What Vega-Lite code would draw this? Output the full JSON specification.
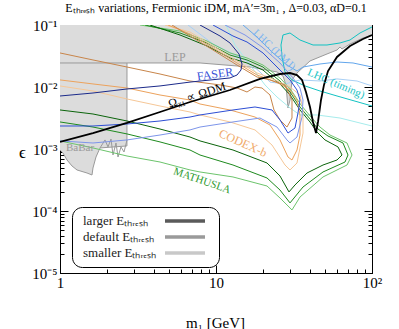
{
"$schema":"https://vega.github.io/schema/vega-lite/v6.json",
"width":312,"height":248,
"autosize":{"type":"none"},
"padding":{"left":60,"top":25,"right":27,"bottom":56},
"title":{"text":"Eₜₕᵣₑₛₕ variations, Fermionic iDM, mA′=3m₁ , Δ=0.03, αD=0.1","font":"Liberation Serif","fontSize":12,"fontWeight":"normal","color":"black","offset":3},
"config":{"view":{"stroke":"black"},"axis":{"grid":false,"domainColor":"black","tickColor":"black","labelColor":"black","titleColor":"black","labelFont":"Liberation Serif","titleFont":"Liberation Serif","titleFontWeight":"normal"}},
"datasets":{
"gray":[
{"m":1,"e":0.000963},{"m":1.045,"e":0.000862},{"m":1.109,"e":0.000665},{"m":1.194,"e":0.000532},{"m":1.285,"e":0.000459},{"m":1.49,"e":0.00041},{"m":1.604,"e":0.000381},{"m":1.627,"e":0.000494},{"m":1.701,"e":0.000743},{"m":1.805,"e":0.00104},{"m":2.686,"e":0.00112},{"m":2.688,"e":0.0244},{"m":7.897,"e":0.0244},{"m":16.52,"e":0.021},{"m":24.6,"e":0.0175},{"m":26.88,"e":0.015},{"m":28.1,"e":0.0108},{"m":28.94,"e":0.00459},{"m":29.81,"e":0.00617},{"m":30.7,"e":0.013},{"m":33.05,"e":0.0168},{"m":40.05,"e":0.0263},{"m":51.47,"e":0.0341},{"m":59.67,"e":0.0395},{"m":62.36,"e":0.0442},{"m":64.23,"e":0.041},{"m":72.27,"e":0.0494},{"m":87.57,"e":0.0617},{"m":100,"e":0.069}
],
"cv":[
{"s":"L","o":1,"m":1,"e":0.0244},{"s":"L","o":2,"m":2.688,"e":0.0244},
{"s":"W","o":1,"m":1.805,"e":0.00104},{"s":"W","o":2,"m":1.943,"e":0.0014},{"s":"W","o":3,"m":2.031,"e":0.00108},{"s":"W","o":4,"m":2.123,"e":0.00145},{"s":"W","o":5,"m":2.186,"e":0.0008},{"s":"W","o":6,"m":2.285,"e":0.00125},{"s":"W","o":7,"m":2.354,"e":0.000743},{"s":"W","o":8,"m":2.461,"e":0.00108},{"s":"W","o":9,"m":2.572,"e":0.000895},{"s":"W","o":10,"m":2.688,"e":0.0014},
{"s":"C3","o":1,"m":11.59,"e":0.1},{"s":"C3","o":2,"m":13.24,"e":0.0476},{"s":"C3","o":3,"m":16.52,"e":0.0226},{"s":"C3","o":4,"m":20.61,"e":0.0108},{"s":"C3","o":5,"m":24.6,"e":0.0069},{"s":"C3","o":6,"m":29.81,"e":0.00459},{"s":"C3","o":7,"m":34.55,"e":0.00354},{"s":"C3","o":8,"m":44.41,"e":0.00354},{"s":"C3","o":9,"m":62.36,"e":0.00316},{"s":"C3","o":10,"m":100,"e":0.00235},
{"s":"D2","o":1,"m":6.615,"e":0.1},{"s":"D2","o":2,"m":9.567,"e":0.0494},{"s":"D2","o":3,"m":15.8,"e":0.0263},{"s":"D2","o":4,"m":19.14,"e":0.0175},{"s":"D2","o":5,"m":22.19,"e":0.012},{"s":"D2","o":6,"m":27.69,"e":0.0112},{"s":"D2","o":7,"m":34.55,"e":0.013},{"s":"D2","o":8,"m":46.42,"e":0.0125},{"s":"D2","o":9,"m":59.67,"e":0.0135},{"s":"D2","o":10,"m":80.14,"e":0.0125},{"s":"D2","o":11,"m":100,"e":0.0104},
{"s":"D1","o":1,"m":14.9,"e":0.1},{"s":"D1","o":2,"m":18.32,"e":0.0641},{"s":"D1","o":3,"m":23.2,"e":0.0354},{"s":"D1","o":4,"m":28.51,"e":0.0226},{"s":"D1","o":5,"m":33.05,"e":0.0181},{"s":"D1","o":6,"m":36.12,"e":0.021},{"s":"D1","o":7,"m":46.42,"e":0.0235},{"s":"D1","o":8,"m":59.67,"e":0.0253},{"s":"D1","o":9,"m":75.55,"e":0.0244},{"s":"D1","o":10,"m":100,"e":0.021},
{"s":"C1","o":1,"m":100,"e":0.00494},{"s":"C1","o":2,"m":59.67,"e":0.00716},{"s":"C1","o":3,"m":46.42,"e":0.00862},{"s":"C1","o":4,"m":37.2,"e":0.0104},{"s":"C1","o":5,"m":30.7,"e":0.013},{"s":"C1","o":6,"m":27.69,"e":0.0175},{"s":"C1","o":7,"m":26.49,"e":0.0305},{"s":"C1","o":8,"m":26.1,"e":0.0476},{"s":"C1","o":9,"m":26.88,"e":0.069},{"s":"C1","o":10,"m":29.81,"e":0.0743},{"s":"C1","o":11,"m":34.55,"e":0.0573},{"s":"C1","o":12,"m":41.86,"e":0.0476},{"s":"C1","o":13,"m":51.47,"e":0.0476},{"s":"C1","o":14,"m":62.36,"e":0.0513},{"s":"C1","o":15,"m":72.27,"e":0.0573},{"s":"C1","o":16,"m":83.77,"e":0.0743},{"s":"C1","o":17,"m":100,"e":0.0929},
{"s":"G3","o":1,"m":1,"e":0.00135},{"s":"G3","o":2,"m":1.627,"e":0.00104},{"s":"G3","o":3,"m":2.688,"e":0.000771},{"s":"G3","o":4,"m":4.376,"e":0.000617},{"s":"G3","o":5,"m":6.813,"e":0.000459},{"s":"G3","o":6,"m":7.897,"e":0.000426},{"s":"G3","o":7,"m":12.85,"e":0.000354},{"s":"G3","o":8,"m":21.23,"e":0.000253},{"s":"G3","o":9,"m":25.72,"e":0.000162},{"s":"G3","o":10,"m":30.7,"e":0.000104},{"s":"G3","o":11,"m":34.55,"e":0.000168},{"s":"G3","o":12,"m":48.52,"e":0.000354},{"s":"G3","o":13,"m":69.15,"e":0.000552},{"s":"G3","o":14,"m":74.44,"e":0.0008},{"s":"G3","o":15,"m":69.15,"e":0.00125},{"s":"G3","o":16,"m":53.8,"e":0.00168},{"s":"G3","o":17,"m":46.42,"e":0.00226},{"s":"G3","o":18,"m":40.64,"e":0.00328},{"s":"G3","o":19,"m":35.06,"e":0.00513},{"s":"G3","o":20,"m":30.25,"e":0.00895},{"s":"G3","o":21,"m":26.1,"e":0.0135},{"s":"G3","o":22,"m":22.52,"e":0.0181},{"s":"G3","o":23,"m":20.01,"e":0.0226},{"s":"G3","o":24,"m":15.8,"e":0.0294},{"s":"G3","o":25,"m":12.29,"e":0.0354},{"s":"G3","o":26,"m":8.755,"e":0.0552},{"s":"G3","o":27,"m":5.878,"e":0.08},{"s":"G3","o":28,"m":3.258,"e":0.1},
{"s":"G2","o":1,"m":1,"e":0.00273},{"s":"G2","o":2,"m":1.627,"e":0.00226},{"s":"G2","o":3,"m":2.688,"e":0.00175},{"s":"G2","o":4,"m":4.376,"e":0.0013},{"s":"G2","o":5,"m":6.813,"e":0.000963},{"s":"G2","o":6,"m":7.897,"e":0.0008},{"s":"G2","o":7,"m":12.85,"e":0.000552},{"s":"G2","o":8,"m":21.23,"e":0.000341},{"s":"G2","o":9,"m":25.72,"e":0.000218},{"s":"G2","o":10,"m":29.81,"e":0.000135},{"s":"G2","o":11,"m":36.12,"e":0.000244},{"s":"G2","o":12,"m":48.52,"e":0.000426},{"s":"G2","o":13,"m":67.14,"e":0.000617},{"s":"G2","o":14,"m":70.18,"e":0.0008},{"s":"G2","o":15,"m":65.18,"e":0.00125},{"s":"G2","o":16,"m":52.24,"e":0.00162},{"s":"G2","o":17,"m":45.07,"e":0.0021},{"s":"G2","o":18,"m":40.05,"e":0.00305},{"s":"G2","o":19,"m":34.55,"e":0.00476},{"s":"G2","o":20,"m":29.81,"e":0.00831},{"s":"G2","o":21,"m":25.72,"e":0.0125},{"s":"G2","o":22,"m":22.19,"e":0.0168},{"s":"G2","o":23,"m":20.01,"e":0.021},{"s":"G2","o":24,"m":15.8,"e":0.0273},{"s":"G2","o":25,"m":12.29,"e":0.0328},{"s":"G2","o":26,"m":8.755,"e":0.0513},{"s":"G2","o":27,"m":5.878,"e":0.0743},{"s":"G2","o":28,"m":3.506,"e":0.1},
{"s":"G1","o":1,"m":1,"e":0.00426},{"s":"G1","o":2,"m":1.627,"e":0.00367},{"s":"G1","o":3,"m":2.688,"e":0.00283},{"s":"G1","o":4,"m":4.376,"e":0.0021},{"s":"G1","o":5,"m":6.813,"e":0.00156},{"s":"G1","o":6,"m":7.897,"e":0.00135},{"s":"G1","o":7,"m":12.85,"e":0.000963},{"s":"G1","o":8,"m":21.23,"e":0.000595},{"s":"G1","o":9,"m":25.72,"e":0.000367},{"s":"G1","o":10,"m":29.37,"e":0.000203},{"s":"G1","o":11,"m":32.09,"e":0.000263},{"s":"G1","o":12,"m":38.31,"e":0.00041},{"s":"G1","o":13,"m":48.52,"e":0.000552},{"s":"G1","o":14,"m":59.67,"e":0.000665},{"s":"G1","o":15,"m":64.23,"e":0.0008},{"s":"G1","o":16,"m":60.55,"e":0.00108},{"s":"G1","o":17,"m":49.97,"e":0.0014},{"s":"G1","o":18,"m":44.41,"e":0.00188},{"s":"G1","o":19,"m":40.05,"e":0.00273},{"s":"G1","o":20,"m":34.55,"e":0.00426},{"s":"G1","o":21,"m":29.81,"e":0.00743},{"s":"G1","o":22,"m":25.72,"e":0.0112},{"s":"G1","o":23,"m":22.19,"e":0.015},{"s":"G1","o":24,"m":20.01,"e":0.0188},{"s":"G1","o":25,"m":15.8,"e":0.0244},{"s":"G1","o":26,"m":12.29,"e":0.0294},{"s":"G1","o":27,"m":8.755,"e":0.0459},{"s":"G1","o":28,"m":5.878,"e":0.069},{"s":"G1","o":29,"m":3.775,"e":0.1},
{"s":"O3","o":1,"m":1,"e":0.0104},{"s":"O3","o":2,"m":1.627,"e":0.00862},{"s":"O3","o":3,"m":2.688,"e":0.00641},{"s":"O3","o":4,"m":4.376,"e":0.00494},{"s":"O3","o":5,"m":6.813,"e":0.00395},{"s":"O3","o":6,"m":7.897,"e":0.00354},{"s":"O3","o":7,"m":12.29,"e":0.00273},{"s":"O3","o":8,"m":17.78,"e":0.00203},{"s":"O3","o":9,"m":22.85,"e":0.00116},{"s":"O3","o":10,"m":27.69,"e":0.000552},{"s":"O3","o":11,"m":29.81,"e":0.000459},{"s":"O3","o":12,"m":33.05,"e":0.000595},{"s":"O3","o":13,"m":36.12,"e":0.00181},{"s":"O3","o":14,"m":36.12,"e":0.00426},{"s":"O3","o":15,"m":34.55,"e":0.00743},{"s":"O3","o":16,"m":29.81,"e":0.01},{"s":"O3","o":17,"m":25.72,"e":0.012},{"s":"O3","o":18,"m":21.54,"e":0.0145},{"s":"O3","o":19,"m":18.32,"e":0.0168},{"s":"O3","o":20,"m":13.64,"e":0.0263},{"s":"O3","o":21,"m":9.567,"e":0.0459},{"s":"O3","o":22,"m":6.813,"e":0.0771},{"s":"O3","o":23,"m":4.711,"e":0.1},
{"s":"O2","o":1,"m":1,"e":0.013},{"s":"O2","o":2,"m":1.627,"e":0.0112},{"s":"O2","o":3,"m":2.688,"e":0.00963},{"s":"O2","o":4,"m":4.376,"e":0.00743},{"s":"O2","o":5,"m":6.813,"e":0.00617},{"s":"O2","o":6,"m":7.897,"e":0.00532},{"s":"O2","o":7,"m":12.29,"e":0.00426},{"s":"O2","o":8,"m":17.78,"e":0.00328},{"s":"O2","o":9,"m":22.19,"e":0.00244},{"s":"O2","o":10,"m":25.72,"e":0.0014},{"s":"O2","o":11,"m":28.94,"e":0.000743},{"s":"O2","o":12,"m":30.7,"e":0.000665},{"s":"O2","o":13,"m":33.05,"e":0.000963},{"s":"O2","o":14,"m":34.55,"e":0.00168},{"s":"O2","o":15,"m":34.55,"e":0.00354},{"s":"O2","o":16,"m":33.05,"e":0.00617},{"s":"O2","o":17,"m":29.81,"e":0.00895},{"s":"O2","o":18,"m":25.72,"e":0.0112},{"s":"O2","o":19,"m":21.54,"e":0.0135},{"s":"O2","o":20,"m":18.32,"e":0.0156},{"s":"O2","o":21,"m":13.64,"e":0.0244},{"s":"O2","o":22,"m":9.567,"e":0.0426},{"s":"O2","o":23,"m":6.813,"e":0.0716},{"s":"O2","o":24,"m":4.924,"e":0.1},
{"s":"O1","o":1,"m":1,"e":0.0354},{"s":"O1","o":2,"m":1.627,"e":0.0273},{"s":"O1","o":3,"m":2.688,"e":0.021},{"s":"O1","o":4,"m":4.376,"e":0.0162},{"s":"O1","o":5,"m":6.813,"e":0.0125},{"s":"O1","o":6,"m":10.61,"e":0.0108},{"s":"O1","o":7,"m":13.64,"e":0.00963},{"s":"O1","o":8,"m":15.8,"e":0.00831},{"s":"O1","o":9,"m":17.78,"e":0.01},{"s":"O1","o":10,"m":19.72,"e":0.00963},{"s":"O1","o":11,"m":22.19,"e":0.00743},{"s":"O1","o":12,"m":23.54,"e":0.00426},{"s":"O1","o":13,"m":25.72,"e":0.00294},{"s":"O1","o":14,"m":28.51,"e":0.00226},{"s":"O1","o":15,"m":30.7,"e":0.00316},{"s":"O1","o":16,"m":30.7,"e":0.00617},{"s":"O1","o":17,"m":27.69,"e":0.0108},{"s":"O1","o":18,"m":22.19,"e":0.013},{"s":"O1","o":19,"m":18.32,"e":0.0145},{"s":"O1","o":20,"m":13.64,"e":0.0226},{"s":"O1","o":21,"m":9.567,"e":0.0395},{"s":"O1","o":22,"m":6.813,"e":0.0665},{"s":"O1","o":23,"m":5.224,"e":0.1},
{"s":"B3","o":1,"m":1,"e":0.00135},{"s":"B3","o":2,"m":1.627,"e":0.00125},{"s":"B3","o":3,"m":2.688,"e":0.0014},{"s":"B3","o":4,"m":4.376,"e":0.00168},{"s":"B3","o":5,"m":6.813,"e":0.00203},{"s":"B3","o":6,"m":7.897,"e":0.00226},{"s":"B3","o":7,"m":12.85,"e":0.00273},{"s":"B3","o":8,"m":19.14,"e":0.00316},{"s":"B3","o":9,"m":24.6,"e":0.00226},{"s":"B3","o":10,"m":28.51,"e":0.0014},{"s":"B3","o":11,"m":29.81,"e":0.00125},{"s":"B3","o":12,"m":33.05,"e":0.00156},{"s":"B3","o":13,"m":35.59,"e":0.00328},{"s":"B3","o":14,"m":36.12,"e":0.00617},{"s":"B3","o":15,"m":34.55,"e":0.00963},{"s":"B3","o":16,"m":31.16,"e":0.014},{"s":"B3","o":17,"m":25.72,"e":0.0244},{"s":"B3","o":18,"m":19.72,"e":0.0442},{"s":"B3","o":19,"m":15.35,"e":0.069},{"s":"B3","o":20,"m":11.42,"e":0.1},
{"s":"B2","o":1,"m":1,"e":0.00235},{"s":"B2","o":2,"m":1.627,"e":0.00235},{"s":"B2","o":3,"m":2.688,"e":0.00253},{"s":"B2","o":4,"m":4.376,"e":0.00283},{"s":"B2","o":5,"m":6.813,"e":0.00328},{"s":"B2","o":6,"m":7.897,"e":0.00354},{"s":"B2","o":7,"m":12.85,"e":0.00426},{"s":"B2","o":8,"m":17.78,"e":0.00476},{"s":"B2","o":9,"m":22.85,"e":0.00426},{"s":"B2","o":10,"m":25.72,"e":0.00294},{"s":"B2","o":11,"m":28.94,"e":0.00181},{"s":"B2","o":12,"m":32.09,"e":0.00218},{"s":"B2","o":13,"m":33.54,"e":0.00381},{"s":"B2","o":14,"m":34.55,"e":0.00617},{"s":"B2","o":15,"m":33.05,"e":0.00895},{"s":"B2","o":16,"m":29.81,"e":0.013},{"s":"B2","o":17,"m":25.72,"e":0.0188},{"s":"B2","o":18,"m":20.01,"e":0.0354},{"s":"B2","o":19,"m":15.8,"e":0.0532},{"s":"B2","o":20,"m":12.85,"e":0.0665},{"s":"B2","o":21,"m":9.567,"e":0.1},
{"s":"B1","o":1,"m":1,"e":0.00716},{"s":"B1","o":2,"m":1.627,"e":0.008},{"s":"B1","o":3,"m":2.688,"e":0.00929},{"s":"B1","o":4,"m":4.376,"e":0.0104},{"s":"B1","o":5,"m":6.813,"e":0.012},{"s":"B1","o":6,"m":12.29,"e":0.014},{"s":"B1","o":7,"m":13.64,"e":0.0156},{"s":"B1","o":8,"m":14.46,"e":0.0188},{"s":"B1","o":9,"m":14.68,"e":0.0235},{"s":"B1","o":10,"m":14.04,"e":0.0341},{"s":"B1","o":11,"m":12.29,"e":0.0513},{"s":"B1","o":12,"m":10.61,"e":0.0665},{"s":"B1","o":13,"m":7.897,"e":0.1}
],
"black":[
{"o":1,"m":1,"e":0.0013},{"o":2,"m":1.627,"e":0.00181},{"o":3,"m":2.688,"e":0.00263},{"o":4,"m":4.376,"e":0.00395},{"o":5,"m":6.813,"e":0.00573},{"o":6,"m":12.29,"e":0.00895},{"o":7,"m":19.14,"e":0.0135},{"o":8,"m":25.72,"e":0.0162},{"o":9,"m":29.81,"e":0.0168},{"o":10,"m":33.05,"e":0.0156},{"o":11,"m":35.59,"e":0.013},{"o":12,"m":37.74,"e":0.00831},{"o":13,"m":40.05,"e":0.00476},{"o":14,"m":41.86,"e":0.00273},{"o":15,"m":43.76,"e":0.00181},{"o":16,"m":45.07,"e":0.00273},{"o":17,"m":47.11,"e":0.00617},{"o":18,"m":49.24,"e":0.0108},{"o":19,"m":52.24,"e":0.0181},{"o":20,"m":59.67,"e":0.0305},{"o":21,"m":72.27,"e":0.0459},{"o":22,"m":87.57,"e":0.0595},{"o":23,"m":100,"e":0.069}
]
},
"layer":[
{"data":{"name":"gray"},"mark":{"type":"area","orient":"vertical","color":"#dcdcdc","fill":"#dcdcdc","opacity":1,"clip":true},
 "encoding":{"x":{"field":"m","type":"quantitative","scale":{"type":"log","domain":[1,100],"nice":false},
   "axis":{"orient":"bottom","values":[1,2,3,4,5,6,7,8,9,10,20,30,40,50,60,70,80,90,100],"labelExpr":"datum.value==1?'1':datum.value==10?'10':datum.value==100?'10²':''","labelOverlap":false,"labelFlush":false,"labelBound":false,"labelFontSize":15,"labelPadding":10,"tickSize":{"condition":{"test":"datum.value==1||datum.value==10||datum.value==100","value":-8},"value":-4},"title":"m₁ [GeV]","titleFontSize":15,"titleX":155,"titleY":49,"titleBaseline":"middle"}},
  "y":{"field":"e","type":"quantitative","scale":{"type":"log","domain":[0.00001,0.1],"nice":false},
   "axis":{"orient":"left","values":[0.00001,0.00002,0.00003,0.00004,0.00005,0.00006,0.00007,0.00008,0.00009,0.0001,0.0002,0.0003,0.0004,0.0005,0.0006,0.0007,0.0008,0.0009,0.001,0.002,0.003,0.004,0.005,0.006,0.007,0.008,0.009,0.01,0.02,0.03,0.04,0.05,0.06,0.07,0.08,0.09,0.1],"labelExpr":"datum.value==0.1?'10⁻¹':datum.value==0.01?'10⁻²':datum.value==0.001?'10⁻³':datum.value==0.0001?'10⁻⁴':datum.value==0.00001?'10⁻⁵':''","labelOverlap":false,"labelFlush":false,"labelBound":false,"labelFontSize":15,"labelPadding":11,"tickSize":{"condition":{"test":"datum.value==0.1||datum.value==0.01||datum.value==0.001||datum.value==0.0001||datum.value==0.00001","value":-8},"value":-4},"title":"ϵ","titleAngle":0,"titleFontSize":17,"titleX":-38,"titleY":127,"titleAlign":"center","titleBaseline":"middle"}},
  "y2":{"datum":0.1}}},
{"data":{"name":"gray"},"mark":{"type":"line","stroke":"#9a9a9a","strokeWidth":1,"clip":true},
 "encoding":{"x":{"field":"m","type":"quantitative","axis":{"orient":"top","values":[1,2,3,4,5,6,7,8,9,10,20,30,40,50,60,70,80,90,100],"labels":false,"title":null,"tickSize":{"condition":{"test":"datum.value==1||datum.value==10||datum.value==100","value":-8},"value":-4}}},
  "y":{"field":"e","type":"quantitative","axis":{"orient":"right","values":[0.00001,0.00002,0.00003,0.00004,0.00005,0.00006,0.00007,0.00008,0.00009,0.0001,0.0002,0.0003,0.0004,0.0005,0.0006,0.0007,0.0008,0.0009,0.001,0.002,0.003,0.004,0.005,0.006,0.007,0.008,0.009,0.01,0.02,0.03,0.04,0.05,0.06,0.07,0.08,0.09,0.1],"labels":false,"title":null,"tickSize":{"condition":{"test":"datum.value==0.1||datum.value==0.01||datum.value==0.001||datum.value==0.0001||datum.value==0.00001","value":-8},"value":-4}}}}},
{"data":{"name":"cv"},"mark":{"type":"line","clip":true},
 "encoding":{"x":{"field":"m","type":"quantitative","axis":null},"y":{"field":"e","type":"quantitative","axis":null},
  "detail":{"field":"s"},"order":{"field":"o","type":"quantitative"},
  "color":{"field":"s","type":"nominal","legend":null,"scale":{"domain":["L","W","C3","D2","D1","C1","G3","G2","G1","O3","O2","O1","B3","B2","B1"],"range":["#9a9a9a","#9a9a9a","#a6ecec","#a8cff5","#62a6ec","#12c2c2","#6cc46c","#1e8a1e","#0b640b","#f6c797","#eca25c","#c8854a","#7d95ea","#2d4ed4","#1b2a8a"]}},
  "strokeWidth":{"field":"s","type":"nominal","legend":null,"scale":{"domain":["L","W","C3","D2","D1","C1","G3","G2","G1","O3","O2","O1","B3","B2","B1"],"range":[1,1,1.4,1.4,1.6,1.8,1.4,1.7,1.8,1.6,1.8,1.8,1.6,1.7,1.8]}}}},
{"data":{"name":"black"},"mark":{"type":"line","stroke":"black","strokeWidth":1.8,"clip":true},
 "encoding":{"x":{"field":"m","type":"quantitative","axis":null},"y":{"field":"e","type":"quantitative","axis":null},"order":{"field":"o","type":"quantitative"}}},
{"data":{"values":[{"t":"LEP","m":5.459,"e":0.0305}]},"mark":{"type":"text","font":"Liberation Serif","fontSize":12,"color":"#9a9a9a"},"encoding":{"x":{"field":"m","type":"quantitative","axis":null},"y":{"field":"e","type":"quantitative","axis":null},"text":{"field":"t"}}},
{"data":{"values":[{"t":"BaBar","m":1.344,"e":0.00104}]},"mark":{"type":"text","font":"Liberation Serif","fontSize":11,"color":"#9a9a9a"},"encoding":{"x":{"field":"m","type":"quantitative","axis":null},"y":{"field":"e","type":"quantitative","axis":null},"text":{"field":"t"}}},
{"data":{"values":[{"t":"FASER","m":9.853,"e":0.0162}]},"mark":{"type":"text","font":"Liberation Serif","fontSize":12,"color":"#3550d8","angle":-8},"encoding":{"x":{"field":"m","type":"quantitative","axis":null},"y":{"field":"e","type":"quantitative","axis":null},"text":{"field":"t"}}},
{"data":{"values":[{"t":"Ωᵪ₁ ∝ ΩDM","m":7.553,"e":0.00743}]},"mark":{"type":"text","font":"Liberation Serif","fontSize":12,"color":"black","angle":-18},"encoding":{"x":{"field":"m","type":"quantitative","axis":null},"y":{"field":"e","type":"quantitative","axis":null},"text":{"field":"t"}}},
{"data":{"values":[{"t":"CODEX-b","m":14.9,"e":0.00125}]},"mark":{"type":"text","font":"Liberation Serif","fontSize":12,"color":"#f0aa6a","angle":24},"encoding":{"x":{"field":"m","type":"quantitative","axis":null},"y":{"field":"e","type":"quantitative","axis":null},"text":{"field":"t"}}},
{"data":{"values":[{"t":"MATHUSLA","m":8.133,"e":0.000305}]},"mark":{"type":"text","font":"Liberation Serif","fontSize":11,"color":"#2e9a2e","angle":19},"encoding":{"x":{"field":"m","type":"quantitative","axis":null},"y":{"field":"e","type":"quantitative","axis":null},"text":{"field":"t"}}},
{"data":{"values":[{"t":"LHC (DMJ)","m":23.54,"e":0.0395}]},"mark":{"type":"text","font":"Liberation Serif","fontSize":11,"color":"#7ab4f0","angle":43},"encoding":{"x":{"field":"m","type":"quantitative","axis":null},"y":{"field":"e","type":"quantitative","axis":null},"text":{"field":"t"}}},
{"data":{"values":[{"t":"LHC (timing)","m":58.78,"e":0.0112}]},"mark":{"type":"text","font":"Liberation Serif","fontSize":11,"color":"#22c4c4","angle":23},"encoding":{"x":{"field":"m","type":"quantitative","axis":null},"y":{"field":"e","type":"quantitative","axis":null},"text":{"field":"t"}}},
{"data":{"values":[{"lvl":"larger Eₜₕᵣₑₛₕ"},{"lvl":"default Eₜₕᵣₑₛₕ"},{"lvl":"smaller Eₜₕᵣₑₛₕ"}]},"mark":{"type":"rule","strokeWidth":3.5,"opacity":0},
 "encoding":{"stroke":{"field":"lvl","type":"nominal","scale":{"domain":["larger Eₜₕᵣₑₛₕ","default Eₜₕᵣₑₛₕ","smaller Eₜₕᵣₑₛₕ"],"range":["#5a5a5a","#9a9a9a","#c8c8c8"]},
  "legend":{"title":null,"orient":"none","legendX":12,"legendY":182,"fillColor":"white","strokeColor":"black","cornerRadius":10,"padding":7,"symbolType":"M-4,0H4","symbolSize":100,"symbolStrokeWidth":3.5,"symbolFillColor":"transparent","symbolOpacity":1,"symbolOffset":99,"labelFont":"Liberation Serif","labelFontSize":13,"labelColor":"#222","labelAlign":"left","labelOffset":-109,"rowPadding":2}}}}
],
"resolve":{"axis":{"x":"independent","y":"independent"}}
}
